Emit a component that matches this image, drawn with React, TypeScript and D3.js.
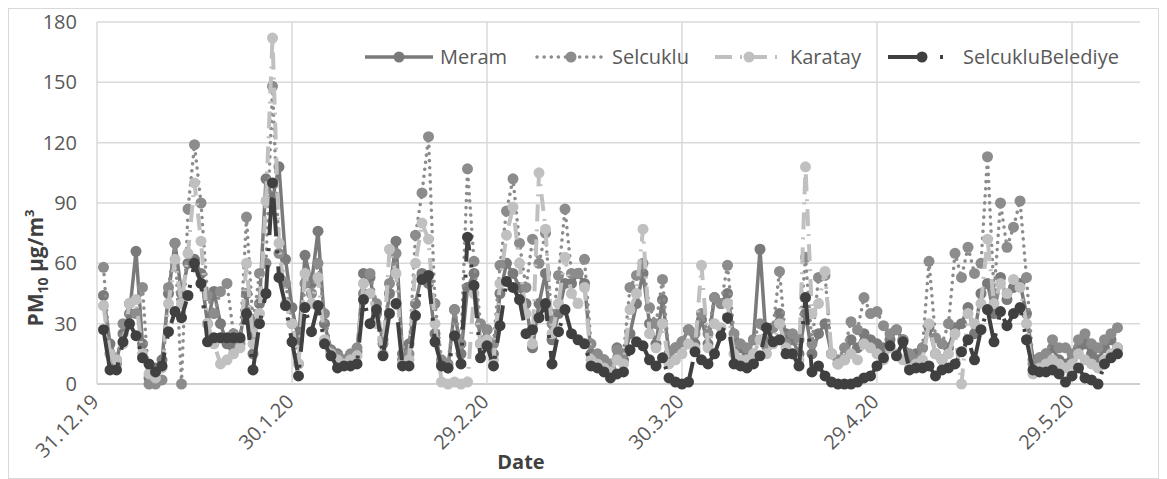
import React from "react";
import * as d3 from "d3";

// ---------- data ----------
const tickLabels = ["31.12.19", "30.1.20", "29.2.20", "30.3.20", "29.4.20", "29.5.20"];
const yTicks = [0, 30, 60, 90, 120, 150, 180];
const seriesNames = ["Meram", "Selcuklu", "Karatay", "SelcukluBelediye"];
const firstDate = "1.1.20";
const axisEndDate = "9.6.20";

const meram = [
  44, 20, 12, 25, 35, 66, 20, 3, 8, 12,
  45, 70, 45, 60, 62, 55, 30, 46, 30, 20,
  18, 22, 45, 15, 40, 102, 92, 108, 62, 38,
  22, 64, 50, 76, 30, 17, 15, 12, 14, 16,
  55, 53, 35, 22, 45, 71, 15, 20, 40, 55,
  50, 25, 10, 8, 37, 15, 48, 55, 20, 27,
  15, 45, 60, 55, 48, 40, 18, 40, 55, 22,
  35, 50, 50, 55, 50, 15, 12, 12, 8, 18,
  12, 25, 40, 55, 30, 20, 42, 15, 18, 21,
  27, 20, 32, 20, 43, 40, 45, 22, 18, 15,
  22, 67, 19, 28, 35, 25, 22, 15, 35, 15,
  25, 30, 15, 10, 12, 22, 18, 25, 22, 20,
  18, 22, 27, 22, 12, 15, 18, 28, 15, 12,
  18, 28, 30, 38, 25, 45, 50, 35, 53, 42,
  48, 50, 35, 12, 13, 15, 18, 12, 10, 12,
  18, 20, 15, 12, 18, 22, 18,
];

const selcuklu = [
  58, 15, 10, 30, 40, 35, 48, 0, 0, 2,
  48, 70, 0, 87, 119, 90, 44, 35, 46, 50,
  25, 20, 83, 30, 55, 60, 148, 65, 50, 30,
  10, 50, 45, 60, 35, 16, 14, 12, 15, 18,
  45, 55, 40, 20, 50, 65, 12, 15, 74, 95,
  123, 40, 12, 10, 37, 20, 107, 61, 30, 27,
  20, 59, 86, 102, 70, 48, 72, 60, 75, 30,
  54, 87, 55, 55, 62, 20, 15, 12, 10, 17,
  15, 48, 54, 60, 38, 30, 52, 15, 18, 21,
  27, 25, 35, 25, 43, 40, 59, 25, 20, 18,
  22, 30, 19, 28, 56, 20, 25, 22, 63, 20,
  53, 54, 15, 12, 18, 31, 27, 43, 35, 36,
  29, 25, 27, 22, 15, 12, 18, 61, 23, 20,
  30, 65, 53, 68, 55, 60, 113, 45, 90, 68,
  78, 91, 53, 10, 13, 15, 22, 18, 18, 15,
  22, 25, 20, 18, 22, 25, 28,
];

const karatay = [
  39, 15, 12, 20, 40, 42, 15, 5, 3, 8,
  40, 62, 40, 65, 100, 71, 30, 20, 10, 12,
  15, 18, 60, 20, 35, 91, 172, 70, 40, 30,
  10, 55, 40, 53, 22, 15, 12, 10, 12, 14,
  50, 45, 30, 15, 67, 55, 10, 12, 60, 80,
  72, 30, 1, 0, 1, 0, 1, 45, 20, 22,
  12, 50, 74, 88, 60, 35, 20, 105, 77, 25,
  40, 63, 45, 40, 48, 12, 10, 8, 6, 12,
  10, 37, 45, 77, 25, 18, 30, 10, 12, 15,
  20, 18, 59, 18, 30, 28, 40, 15, 12, 12,
  15, 22, 15, 20, 30, 18, 15, 12, 108, 35,
  40, 56, 15, 10, 12, 15, 12, 20, 18, 15,
  12, 18, 15, 12, 8, 10, 12, 30, 15, 12,
  15, 25, 0, 35, 30, 40, 72, 40, 50, 45,
  52, 48, 30, 5, 8, 10, 12, 10, 8, 10,
  15, 12, 10, 8, 12, 15, 18,
];

const selcukluBelediye = [
  27, 7, 7, 21, 30, 24, 13, 10, 6, 9,
  26, 36, 33, 44, 60, 50, 21, 23, 23, 23,
  23, 23, 35, 7, 30, 45, 100, 53, 39, 21,
  4, 38, 26, 39, 20, 14, 8, 9, 9, 10,
  42, 30, 37, 14, 35, 40, 9, 9, 34, 52,
  54, 21, 9, 8, 24, 10, 73, 49, 13, 19,
  9, 29, 51, 48, 42, 25, 27, 33, 40, 10,
  26, 37, 25, 22, 20, 9, 8, 6, 3, 5,
  6, 17, 21, 19, 12, 9, 13, 3, 1, 0,
  1, 16, 12, 10, 15, 24, 33, 10, 9, 8,
  10, 14, 28, 21, 22, 15, 15, 9, 43, 6,
  9, 4, 1, 0, 0, 0, 1, 3, 4, 9,
  13, 19, 14, 21, 7, 8, 8, 9, 4, 7,
  8, 10, 16, 22, 12, 27, 37, 21, 36, 29,
  35, 38, 22, 7, 6, 6, 7, 5, 1, 4,
  8, 3, 2, 0, 10, 13, 15,
];

// ---------- styles / layout ----------
const W = 1167;
const H = 479;
const M = { left: 97, right: 1143.5, top: 22, bottom: 384 };
const styles = [
  { color: "#7a7a7a", width: 3.5, dash: "none", cap: "butt" },
  { color: "#8c8c8c", width: 3.5, dash: "0.1 7", cap: "round" },
  { color: "#c0c0c0", width: 4, dash: "17 8 2 8", cap: "butt" },
  { color: "#404040", width: 4, dash: "38 14 3 13", cap: "butt" },
];
const legendX = [365, 537, 715, 888];
const legendY = 57;
const markerR = 5.5;
const FONT = "'Open Sans', 'Noto Sans', sans-serif";

function parseLabel(s: string): Date {
  const [d, m, y] = s.split(".").map(Number);
  return new Date(Date.UTC(2000 + y, m - 1, d));
}

export default function App() {
  const seriesValues = [meram, selcuklu, karatay, selcukluBelediye];
  const start = parseLabel(firstDate);
  const dates = meram.map((_, i) => d3.utcDay.offset(start, i));
  const tickDates = tickLabels.map(parseLabel);

  const x = d3
    .scaleUtc()
    .domain([tickDates[0], parseLabel(axisEndDate)])
    .range([M.left, M.right]);
  const y = d3.scaleLinear().domain([0, 180]).range([M.bottom, M.top]);

  const line = d3
    .line<number>()
    .x((_, i) => x(dates[i]))
    .y((v) => y(v));

  const gridRight = 1140;

  return (
    <svg
      width={W}
      height={H}
      style={{ position: "absolute", left: 0, top: 0, background: "#fff" }}
      fontFamily={FONT}
    >
      <rect x={0} y={0} width={W} height={H} fill="#fff" />
      <rect x={8.5} y={8.5} width={1150} height={470} fill="none" stroke="#d9d9d9" strokeWidth={1} />

      {/* horizontal gridlines */}
      {yTicks.map((t) => (
        <line
          key={"h" + t}
          x1={M.left}
          x2={gridRight}
          y1={y(t)}
          y2={y(t)}
          stroke={t === 0 ? "#bfbfbf" : "#d9d9d9"}
          strokeWidth={1.5}
        />
      ))}
      {/* vertical gridlines */}
      {tickDates.map((d, i) => (
        <line
          key={"v" + i}
          x1={x(d)}
          x2={x(d)}
          y1={M.top}
          y2={M.bottom}
          stroke="#d9d9d9"
          strokeWidth={1.5}
        />
      ))}

      {/* y tick labels */}
      {yTicks.map((t) => (
        <text
          key={"yl" + t}
          x={77}
          y={y(t)}
          dy="0.35em"
          textAnchor="end"
          fontSize={20}
          fill="#595959"
        >
          {t}
        </text>
      ))}

      {/* x tick labels */}
      {tickDates.map((d, i) => (
        <text
          key={"xl" + i}
          transform={`translate(${x(d) + 3},${403}) rotate(-45)`}
          textAnchor="end"
          fontSize={20}
          fill="#595959"
        >
          {tickLabels[i]}
        </text>
      ))}

      {/* axis titles */}
      <text x={521} y={469} textAnchor="middle" fontSize={20} fontWeight="bold" fill="#404040">
        Date
      </text>
      <text
        transform="translate(43,268) rotate(-90)"
        textAnchor="middle"
        fontSize={21}
        fontWeight="bold"
        fill="#404040"
      >
        PM
        <tspan fontSize={14} dy={5}>10</tspan>
        <tspan dy={-5}> µg/m</tspan>
        <tspan fontSize={13} dy={-9}>3</tspan>
      </text>

      {/* series */}
      {seriesValues.map((vals, si) => {
        const st = styles[si];
        return (
          <g key={"s" + si}>
            <path
              d={line(vals) || ""}
              fill="none"
              stroke={st.color}
              strokeWidth={st.width}
              strokeDasharray={st.dash}
              strokeLinecap={st.cap as any}
              strokeLinejoin="round"
            />
            {vals.map((v, i) => (
              <circle key={i} cx={x(dates[i])} cy={y(v)} r={markerR} fill={st.color} />
            ))}
          </g>
        );
      })}

      {/* legend */}
      {seriesNames.map((name, si) => {
        const st = styles[si];
        const lx = legendX[si];
        return (
          <g key={"lg" + si}>
            <line
              x1={lx}
              x2={lx + 68}
              y1={legendY}
              y2={legendY}
              stroke={st.color}
              strokeWidth={st.width}
              strokeDasharray={st.dash}
              strokeLinecap={st.cap as any}
            />
            <circle cx={lx + 34} cy={legendY} r={markerR} fill={st.color} />
            <text x={lx + 75} y={legendY} dy="0.35em" fontSize={20} fill="#595959">
              {name}
            </text>
          </g>
        );
      })}
    </svg>
  );
}
